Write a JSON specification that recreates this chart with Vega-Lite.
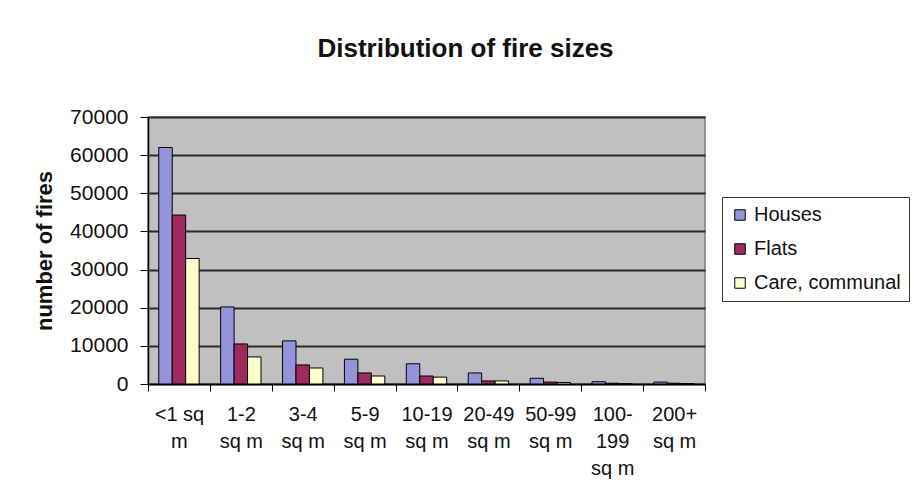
{
  "$schema": "https://vega.github.io/schema/vega-lite/v6.json",
  "autosize": "none",
  "width": 557,
  "height": 267,
  "padding": {"left": 148, "top": 117, "right": 209, "bottom": 120},
  "background": "white",
  "title": {
    "text": "Distribution of fire sizes",
    "font": "Liberation Sans",
    "fontSize": 26,
    "fontWeight": "bold",
    "color": "#111111",
    "anchor": "middle",
    "dx": 39,
    "offset": 44
  },
  "data": {
    "values": [
      {"size": "<1 sq m", "type": "Houses", "fires": 62000},
      {"size": "<1 sq m", "type": "Flats", "fires": 44300},
      {"size": "<1 sq m", "type": "Care, communal", "fires": 32900},
      {"size": "1-2 sq m", "type": "Houses", "fires": 20200},
      {"size": "1-2 sq m", "type": "Flats", "fires": 10500},
      {"size": "1-2 sq m", "type": "Care, communal", "fires": 7100},
      {"size": "3-4 sq m", "type": "Houses", "fires": 11300},
      {"size": "3-4 sq m", "type": "Flats", "fires": 5000},
      {"size": "3-4 sq m", "type": "Care, communal", "fires": 4200},
      {"size": "5-9 sq m", "type": "Houses", "fires": 6500},
      {"size": "5-9 sq m", "type": "Flats", "fires": 2900},
      {"size": "5-9 sq m", "type": "Care, communal", "fires": 2100},
      {"size": "10-19 sq m", "type": "Houses", "fires": 5300},
      {"size": "10-19 sq m", "type": "Flats", "fires": 2100},
      {"size": "10-19 sq m", "type": "Care, communal", "fires": 1800},
      {"size": "20-49 sq m", "type": "Houses", "fires": 2900},
      {"size": "20-49 sq m", "type": "Flats", "fires": 800},
      {"size": "20-49 sq m", "type": "Care, communal", "fires": 800},
      {"size": "50-99 sq m", "type": "Houses", "fires": 1500},
      {"size": "50-99 sq m", "type": "Flats", "fires": 500},
      {"size": "50-99 sq m", "type": "Care, communal", "fires": 400},
      {"size": "100-199 sq m", "type": "Houses", "fires": 600},
      {"size": "100-199 sq m", "type": "Flats", "fires": 200},
      {"size": "100-199 sq m", "type": "Care, communal", "fires": 100},
      {"size": "200+ sq m", "type": "Houses", "fires": 500},
      {"size": "200+ sq m", "type": "Flats", "fires": 200},
      {"size": "200+ sq m", "type": "Care, communal", "fires": 100}
    ]
  },
  "mark": {"type": "bar", "stroke": "#000000", "strokeWidth": 1},
  "encoding": {
    "x": {
      "field": "size",
      "type": "nominal",
      "sort": null,
      "scale": {"paddingInner": 0, "paddingOuter": 0},
      "axis": {
        "title": null,
        "labelAngle": 0,
        "tickBand": "extent",
        "tickSize": 7,
        "tickColor": "#000000",
        "domainColor": "#000000",
        "domainWidth": 1.5,
        "labelFont": "Liberation Sans",
        "labelFontSize": 20,
        "labelColor": "#111111",
        "labelPadding": 13,
        "labelLineHeight": 27,
        "labelExpr": "datum.value == null ? '' : datum.value == '<1 sq m' ? ['<1 sq', 'm'] : datum.value == '100-199 sq m' ? ['100-', '199', 'sq m'] : [replace(datum.value, ' sq m', ''), 'sq m']"
      }
    },
    "xOffset": {
      "field": "type",
      "type": "nominal",
      "sort": ["Houses", "Flats", "Care, communal"],
      "scale": {"paddingInner": 0, "paddingOuter": 0.8}
    },
    "y": {
      "field": "fires",
      "type": "quantitative",
      "scale": {"domain": [0, 70000], "nice": false},
      "axis": {
        "title": "number of fires",
        "values": [0, 10000, 20000, 30000, 40000, 50000, 60000, 70000],
        "format": "d",
        "grid": true,
        "gridColor": "#2a2a2a",
        "gridWidth": 2,
        "tickSize": 8,
        "tickColor": "#000000",
        "domainColor": "#000000",
        "domainWidth": 1.5,
        "labelFont": "Liberation Sans",
        "labelFontSize": 21,
        "labelColor": "#111111",
        "labelPadding": 12,
        "titleFont": "Liberation Sans",
        "titleFontSize": 22,
        "titleFontWeight": "bold",
        "titleColor": "#111111",
        "titlePadding": 13
      }
    },
    "color": {
      "field": "type",
      "type": "nominal",
      "sort": ["Houses", "Flats", "Care, communal"],
      "scale": {
        "domain": ["Houses", "Flats", "Care, communal"],
        "range": ["#9494DC", "#9E2A60", "#FFFFCC"]
      },
      "legend": {
        "title": null,
        "orient": "none",
        "legendX": 574,
        "legendY": 80,
        "fillColor": "#ffffff",
        "strokeColor": "#333333",
        "padding": 8,
        "symbolType": "square",
        "symbolSize": 110,
        "symbolStrokeColor": "#000000",
        "symbolStrokeWidth": 1,
        "symbolOpacity": 1,
        "labelFont": "Liberation Sans",
        "labelFontSize": 20,
        "labelColor": "#111111",
        "labelOffset": 4,
        "rowPadding": 14
      }
    }
  },
  "config": {
    "view": {"fill": "#C0C0C0", "stroke": "#808080", "strokeWidth": 1.5}
  }
}
